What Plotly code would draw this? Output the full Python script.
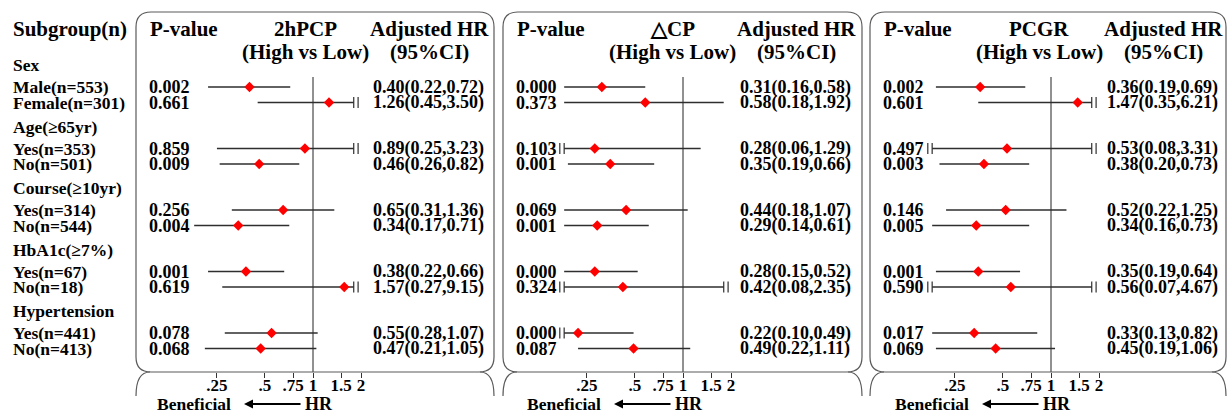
import math
import plotly.graph_objects as go

# ---------------- data ----------------
groups = ["Sex", "Age(≥65yr)", "Course(≥10yr)", "HbA1c(≥7%)", "Hypertension"]
subgroups = [["Male(n=553)", "Female(n=301)"],
             ["Yes(n=353)", "No(n=501)"],
             ["Yes(n=314)", "No(n=544)"],
             ["Yes(n=67)", "No(n=18)"],
             ["Yes(n=441)", "No(n=413)"]]

titles = ["2hPCP", "△CP", "PCGR"]

p_2hpcp = [0.002, 0.661, 0.859, 0.009, 0.256, 0.004, 0.001, 0.619, 0.078, 0.068]
hr_2hpcp = [0.40, 1.26, 0.89, 0.46, 0.65, 0.34, 0.38, 1.57, 0.55, 0.47]
lo_2hpcp = [0.22, 0.45, 0.25, 0.26, 0.31, 0.17, 0.22, 0.27, 0.28, 0.21]
hi_2hpcp = [0.72, 3.50, 3.23, 0.82, 1.36, 0.71, 0.66, 9.15, 1.07, 1.05]

p_dcp = [0.000, 0.373, 0.103, 0.001, 0.069, 0.001, 0.000, 0.324, 0.000, 0.087]
hr_dcp = [0.31, 0.58, 0.28, 0.35, 0.44, 0.29, 0.28, 0.42, 0.22, 0.49]
lo_dcp = [0.16, 0.18, 0.06, 0.19, 0.18, 0.14, 0.15, 0.08, 0.10, 0.22]
hi_dcp = [0.58, 1.92, 1.29, 0.66, 1.07, 0.61, 0.52, 2.35, 0.49, 1.11]

p_pcgr = [0.002, 0.601, 0.497, 0.003, 0.146, 0.005, 0.001, 0.590, 0.017, 0.069]
hr_pcgr = [0.36, 1.47, 0.53, 0.38, 0.52, 0.34, 0.35, 0.56, 0.33, 0.45]
lo_pcgr = [0.19, 0.35, 0.08, 0.20, 0.22, 0.16, 0.19, 0.07, 0.13, 0.19]
hi_pcgr = [0.69, 6.21, 3.31, 0.73, 1.25, 0.73, 0.64, 4.67, 0.82, 1.06]

tick_vals = [0.25, 0.5, 0.75, 1, 1.5, 2]
tick_text = [".25", ".5", ".75", "1", "1.5", "2"]

panels = [(titles[0], p_2hpcp, hr_2hpcp, lo_2hpcp, hi_2hpcp),
          (titles[1], p_dcp, hr_dcp, lo_dcp, hi_dcp),
          (titles[2], p_pcgr, hr_pcgr, lo_pcgr, hi_pcgr)]

# ---------------- layout constants ----------------
W, H = 1228, 414
AXIS_Y = 372                      # pixel row of x-axis line
K = 69.3 * math.log(10)           # px per log10 unit
panel_left = [136, 503, 870]
panel_right = [494, 862, 1226]
one_px = [313, 683, 1051]
AXIS_LO, AXIS_HI = 0.125, 2.0      # beyond these CI is marked truncated
LINE_LO, LINE_HI = 0.18, 1.8       # visible extent of CI lines
BRK = 1.065

FONT = "Liberation Serif, Times New Roman, serif"
BOX_COL = "#5a5a5a"
LINE_COL = "#2e2e2e"


def px(x):
    return x / W


def py(y):
    return 1 - y / H


def item_y(g, k):
    return 87 + g * 61.5 + k * 15.5


def group_y(g):
    return 87 + g * 61.5 - 22


row_y = [item_y(g, k) for g in range(len(groups)) for k in range(2)]

fig = go.Figure()
annotations = []
shapes = []


def txt(x, y, s, size, anchor="left", yref="y"):
    annotations.append(dict(
        x=px(x), xref="paper", y=(y if yref == "y" else py(y)), yref=yref,
        text=s, showarrow=False, xanchor=anchor, yanchor="middle",
        font=dict(family=FONT, size=size, color="black", weight="bold")))


# left subgroup column
txt(11, 29, "Subgroup(n)", 21)
for g, name in enumerate(groups):
    txt(11, group_y(g), name, 17.5)
    for k in range(2):
        txt(11, item_y(g, k), subgroups[g][k], 17.5)

for i, (title, pv, hr, lo, hi) in enumerate(panels):
    L, R, one = panel_left[i], panel_right[i], one_px[i]
    xa = "x" if i == 0 else f"x{i + 1}"
    axname = "xaxis" if i == 0 else f"xaxis{i + 1}"

    # headers
    txt(L + 12, 29, "P-value", 21)
    txt(L + 169, 29, title, 21, "center")
    txt(L + 169, 52, "(High vs Low)", 21, "center")
    txt(L + 293, 29, "Adjusted HR", 21, "center")
    txt(L + 293, 52, "(95%CI)", 21, "center")

    # text columns
    for r in range(len(hr)):
        txt(L + 11, row_y[r], f"{pv[r]:.3f}", 18)
        txt(L + 292, row_y[r], f"{hr[r]:.2f}({lo[r]:.2f},{hi[r]:.2f})", 18, "center")

    # reference line at HR = 1
    fig.add_trace(go.Scatter(x=[1, 1], y=[77, AXIS_Y], mode="lines", xaxis=xa, yaxis="y",
                             line=dict(color="#222222", width=1), hoverinfo="skip"))

    # CI lines
    lx, ly, bx, by = [], [], [], []
    for r in range(len(hr)):
        a = max(lo[r], LINE_LO)
        b = min(hi[r], LINE_HI)
        lx += [a, b, None]
        ly += [row_y[r], row_y[r], None]
        if lo[r] < AXIS_LO:
            bx += [a, a / BRK]
            by += [row_y[r]] * 2
        if hi[r] > AXIS_HI:
            bx += [b, b * BRK]
            by += [row_y[r]] * 2
    fig.add_trace(go.Scatter(x=lx, y=ly, mode="lines", xaxis=xa, yaxis="y",
                             line=dict(color=LINE_COL, width=1.7), hoverinfo="skip"))
    if bx:
        fig.add_trace(go.Scatter(x=bx, y=by, mode="markers", xaxis=xa, yaxis="y",
                                 marker=dict(symbol="line-ns", size=8,
                                             line=dict(color=LINE_COL, width=1.2)),
                                 hoverinfo="skip"))
    # point estimates
    fig.add_trace(go.Scatter(x=hr, y=row_y, mode="markers", xaxis=xa, yaxis="y",
                             marker=dict(symbol="diamond", size=8, color="#ff0000"),
                             hoverinfo="skip"))

    fig.layout[axname] = dict(
        type="log", domain=[px(L), px(R)],
        range=[(L - one) / K, (R - one) / K],
        anchor="y", showgrid=False, zeroline=False, showline=False,
        tickmode="array", tickvals=tick_vals, ticktext=tick_text,
        ticks="outside", ticklen=5, tickwidth=1, tickcolor="#333333",
        ticklabelstandoff=-7,
        tickfont=dict(family=FONT, size=17, color="black", weight="bold"),
        fixedrange=True)

    # panel box with rounded corners
    r_ = 15
    y0, y1 = 12, AXIS_Y
    path = (f"M {px(L + r_)},{py(y0)} L {px(R - r_)},{py(y0)} "
            f"Q {px(R)},{py(y0)} {px(R)},{py(y0 + r_)} "
            f"L {px(R)},{py(y1 - r_)} Q {px(R)},{py(y1)} {px(R - r_)},{py(y1)} "
            f"L {px(L + r_)},{py(y1)} Q {px(L)},{py(y1)} {px(L)},{py(y1 - r_)} "
            f"L {px(L)},{py(y0 + r_)} Q {px(L)},{py(y0)} {px(L + r_)},{py(y0)} Z")
    shapes.append(dict(type="path", path=path, xref="paper", yref="paper",
                       line=dict(color=BOX_COL, width=1.2)))
    # axis box top corners (below the axis line)
    rx, ry = 14, 24
    shapes.append(dict(type="path", xref="paper", yref="paper",
                       path=f"M {px(L)},{py(y1 + ry)} Q {px(L)},{py(y1)} {px(L + rx)},{py(y1)}",
                       line=dict(color=BOX_COL, width=1.2)))
    shapes.append(dict(type="path", xref="paper", yref="paper",
                       path=f"M {px(R - rx)},{py(y1)} Q {px(R)},{py(y1)} {px(R)},{py(y1 + ry)}",
                       line=dict(color=BOX_COL, width=1.2)))

    # "Beneficial <-- HR"
    txt(one - 119, 404, "Beneficial", 17.5, "center", yref="paper")
    txt(one + 6, 404, "HR", 18, "center", yref="paper")
    annotations.append(dict(x=px(one - 69), y=py(404), xref="paper", yref="paper",
                            ax=58, ay=0, text="", showarrow=True, arrowhead=2,
                            arrowsize=1, arrowwidth=1.8, arrowcolor="black"))

fig.update_layout(
    width=W, height=H, margin=dict(l=0, r=0, t=0, b=0),
    paper_bgcolor="white", plot_bgcolor="white", showlegend=False,
    yaxis=dict(domain=[1 - AXIS_Y / H, 1], range=[AXIS_Y, 0], visible=False,
               fixedrange=True),
    annotations=annotations, shapes=shapes)

fig.write_html("out.html",
               config={"displayModeBar": False},
               post_script="document.body.style.margin='0';document.body.style.padding='0';"
                           "document.body.style.overflow='hidden';")
